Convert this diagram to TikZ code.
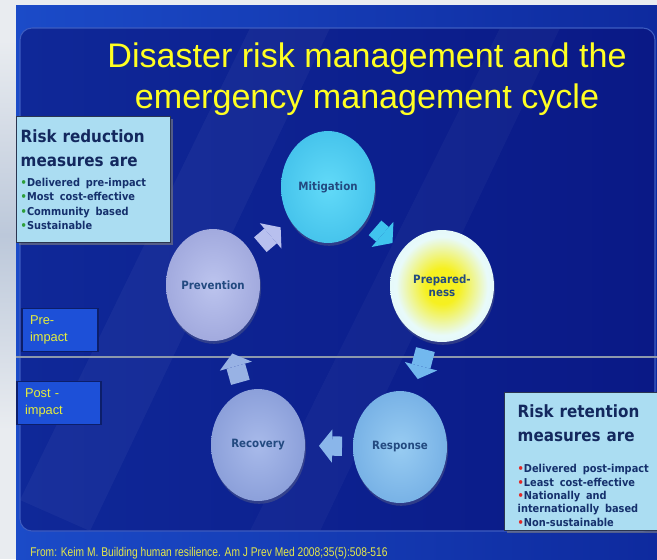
\documentclass[tikz,border=0pt]{standalone}
\usepackage{fontspec}
\setmainfont{Liberation Sans}
\newfontfamily\boxfont{DejaVu Sans Condensed}
\newfontfamily\citefont{Liberation Sans}[FakeStretch=0.81]
\usepackage{tikz}
\usetikzlibrary{shapes.geometric, arrows.meta, shadows}

\definecolor{paper}{HTML}{E9ECF0}
\definecolor{stripmid}{HTML}{BCC8DA}
\definecolor{bandleft}{HTML}{1B4BC8}
\definecolor{bandright}{HTML}{0E2A9E}
\definecolor{bodyleft}{HTML}{0F2898}
\definecolor{bodyright}{HTML}{0A1986}
\definecolor{frameedge}{HTML}{3D5CC0}
\definecolor{divider}{HTML}{8C98AC}
\definecolor{titleyellow}{HTML}{FFFF22}
\definecolor{citeyellow}{HTML}{E4E84A}
\definecolor{boxfill}{HTML}{ABDDF2}
\definecolor{boxedge}{HTML}{2A3550}
\definecolor{headtext}{HTML}{13285E}
\definecolor{listtext}{HTML}{15306C}
\definecolor{bulgreen}{HTML}{2E9E3A}
\definecolor{bulred}{HTML}{E02828}
\definecolor{impactfill}{HTML}{1D50D8}
\definecolor{impactedge}{HTML}{0C1E6A}
\definecolor{impacttext}{HTML}{E6EE3C}
\definecolor{phasetext}{HTML}{234A80}
\definecolor{mitiin}{HTML}{62DAF8}
\definecolor{mitiout}{HTML}{46C4EC}
\definecolor{prepcore}{HTML}{F6F020}
\definecolor{prepmid}{HTML}{E8FAFA}
\definecolor{prepedge}{HTML}{CDEFF5}
\definecolor{respin}{HTML}{98CCF2}
\definecolor{respout}{HTML}{78B2E6}
\definecolor{recoin}{HTML}{A8BAEA}
\definecolor{recoout}{HTML}{8CA0DA}
\definecolor{previn}{HTML}{BCC4EE}
\definecolor{prevout}{HTML}{A2AADE}
\definecolor{arrowlav}{HTML}{B8C0EE}
\definecolor{arrowcyan}{HTML}{40C4EE}
\definecolor{arrowsky}{HTML}{72B8EE}
\definecolor{arrowblue}{HTML}{8AB6EA}
\definecolor{arrowgrey}{HTML}{98B2E4}

\pgfdeclareradialshading{prepglow}{\pgfpoint{0bp}{0bp}}{color(0bp)=(prepcore); color(8bp)=(prepcore); color(22bp)=(prepmid); color(50bp)=(prepedge)}

\newcommand{\headfont}{\boxfont\bfseries\fontsize{9.6}{13.7}\selectfont\color{headtext}}
\newcommand{\listfont}{\boxfont\bfseries\fontsize{6.2}{8.3}\selectfont\color{listtext}}
\newcommand{\bul}[1]{{\color{#1}\textbullet}}

\tikzstyle{phase} = [ellipse, minimum width=1.88cm, minimum height=2.24cm, inner sep=0pt, outer sep=0pt, align=center, text=phasetext, font=\boxfont\bfseries\fontsize{6.5}{7.5}\selectfont, drop shadow={opacity=0.3, shadow xshift=0.6pt, shadow yshift=-1.6pt}]
\tikzstyle{infobox} = [rectangle, draw=boxedge, line width=0.8pt, fill=boxfill, align=left, inner ysep=2pt, drop shadow={opacity=0.6, shadow xshift=1.2pt, shadow yshift=-1.2pt}]
\tikzstyle{impact} = [rectangle, draw=impactedge, line width=0.6pt, fill=impactfill, text=impacttext, align=left, minimum height=0.86cm, inner xsep=0.16cm, font=\fontsize{7.3}{9.3}\selectfont]
\tikzstyle{cyclearrow} = [line width=11pt, -{Triangle[width=19pt, length=7.5pt, line width=0pt]}]

\begin{document}
\begin{tikzpicture}[x=0.02cm, y=-0.02cm]
	\useasboundingbox (0,0) rectangle (657,559);
	% slide background
	\fill[paper] (0,0) rectangle (657,559);
	\shade[top color=paper, bottom color=paper, middle color=stripmid] (0,40) rectangle (16,430);
	\shade[left color=bandleft, right color=bandright] (16,5) rectangle (657,559);
	\shade[left color=bodyleft, right color=bodyright, rounded corners=6.8pt] (20,28) rectangle (655,531);
	\fill[white, opacity=0.04] (20,500) -- (250,28) -- (330,28) -- (90,531) -- cycle;
	\fill[white, opacity=0.03] (250,531) -- (500,28) -- (560,28) -- (320,531) -- cycle;
	\draw[frameedge, line width=0.6pt, rounded corners=6.8pt] (20,28) rectangle (655,531);
	\draw[divider, line width=0.6pt] (16,357) -- (657,357);

	\node (title) [text=titleyellow, align=center, inner sep=0pt, font=\fontsize{19.4}{23.3}\selectfont] at (367,79) {Disaster risk management and the\\emergency management cycle};

	\node (reduction) [infobox, anchor=north west, text width=2.92cm, minimum height=2.52cm, inner xsep=2.3pt] at (16,116) {\headfont Risk reduction\\measures are\par\vspace{3pt}\listfont\bul{bulgreen}Delivered pre-impact\\\bul{bulgreen}Most cost-effective\\\bul{bulgreen}Community based\\\bul{bulgreen}Sustainable\par};
	\node (retention) [infobox, anchor=north west, text width=2.8cm, inner xsep=0.26cm, inner ysep=2.3pt] at (504,392) {\headfont\rule{0pt}{12pt}Risk retention\\measures are\par\vspace{10pt}\boxfont\bfseries\fontsize{6.2}{7.6}\selectfont\color{listtext}\bul{bulred}Delivered post-impact\\\bul{bulred}Least cost-effective\\\bul{bulred}Nationally and\\internationally based\\\bul{bulred}Non-sustainable\par};

	\node (pre) [impact, text width=1.2cm] at (60,330) {Pre-\\impact};
	\node (post) [impact, text width=1.36cm] at (59,403) {Post -\\impact};

	\node (mitigation) [phase, inner color=mitiin, outer color=mitiout] at (328,187) {Mitigation};
	\node (preparedness) [phase, minimum width=2.08cm, shading=prepglow] at (442,286) {Prepared-\\ness};
	\node (response) [phase, inner color=respin, outer color=respout] at (400,447) {Response};
	\node (recovery) [phase, inner color=recoin, outer color=recoout] at (258,445) {Recovery};
	\node (prevention) [phase, inner color=previn, outer color=prevout] at (213,285) {Prevention};

	\draw [cyclearrow, arrowlav, shorten <=0.24cm, shorten >=0.24cm] (prevention) -- (mitigation);
	\draw [cyclearrow, arrowcyan, shorten <=0.24cm, shorten >=0.24cm] (mitigation) -- (preparedness);
	\draw [cyclearrow, arrowsky, shorten <=0.2cm, shorten >=0.3cm] (preparedness) -- (response);
	\draw [cyclearrow, arrowblue, shorten <=0.22cm, shorten >=0.28cm] (response) -- (recovery);
	\draw [cyclearrow, arrowgrey, shorten <=0.2cm, shorten >=0.32cm] (recovery) -- (prevention);

	\node (cite) [anchor=base west, text=citeyellow, inner sep=0pt, font=\citefont\fontsize{7.2}{9}\selectfont] at (30,556) {From: Keim M. Building human resilience. Am J Prev Med 2008;35(5):508-516};
\end{tikzpicture}
\end{document}
